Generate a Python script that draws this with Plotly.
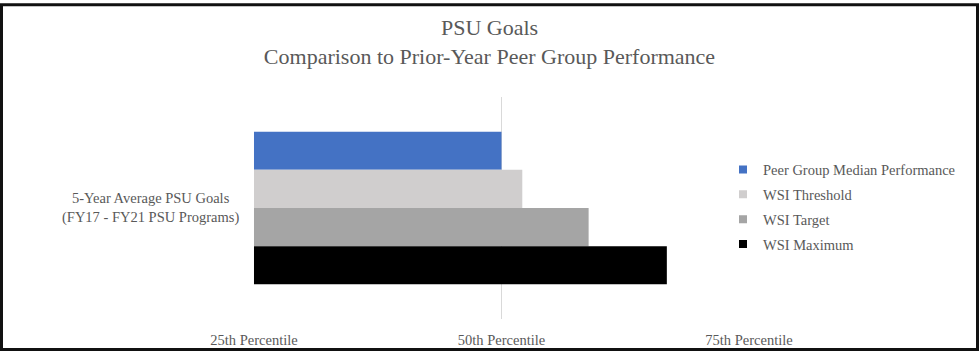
import plotly.graph_objects as go

category = ["5-Year Average PSU Goals<br>(FY17 - FY21 PSU Programs)"]
series_names = ["Peer Group Median Performance", "WSI Threshold", "WSI Target", "WSI Maximum"]
series_values = [50.0, 52.1, 58.8, 66.7]
series_colors = ["#4472C4", "#D0CECE", "#A5A5A5", "#000000"]
tick_vals = [25, 50, 75]
tick_text = ["25th Percentile", "50th Percentile", "75th Percentile"]

W, H = 979, 360
ML, MR, MT, MB = 253, 229, 97, 33
PW, PH = W - ML - MR, H - MT - MB

FONT = "Liberation Serif, Times New Roman, serif"
TXT = "#595959"

fig = go.Figure()
for name, val, col in zip(series_names, series_values, series_colors):
    fig.add_trace(go.Bar(
        x=[val - 25], base=25, y=category, orientation="h", name=name,
        marker=dict(color=col, line=dict(width=0)), showlegend=False,
        hoverinfo="skip",
    ))
for i, (name, col) in enumerate(zip(series_names, series_colors)):
    fig.add_trace(go.Scatter(
        x=[None], y=[None], mode="markers", name=name,
        marker=dict(symbol="square", size=8, color=col),
        legendgroup=f"g{i}",
    ))

def px_x(p):
    return (p - ML) / PW

def px_y(p):
    return 1 - (p - MT) / PH

fig.add_annotation(
    xref="paper", yref="y", x=px_x(241), y=category[0],
    text=category[0], showarrow=False, xanchor="right", align="center",
    font=dict(family=FONT, size=14.5, color=TXT),
)

fig.add_shape(
    type="rect", xref="paper", yref="paper",
    x0=px_x(1.5), x1=px_x(977.5), y0=px_y(358.5), y1=px_y(1.5),
    line=dict(color="#111111", width=3), fillcolor="rgba(0,0,0,0)", layer="above",
)

fig.update_layout(
    width=W, height=H,
    margin=dict(l=ML, r=MR, t=MT, b=MB, pad=0),
    paper_bgcolor="white", plot_bgcolor="white",
    barmode="group", bargap=0.313, bargroupgap=0,
    title=dict(
        text="PSU Goals<br>Comparison to Prior-Year Peer Group Performance",
        x=0.5, xref="container", xanchor="center",
        y=1 - 35 / H, yref="container", yanchor="middle",
        font=dict(family=FONT, size=22, color=TXT),
    ),
    xaxis=dict(
        range=[24.9, 75.1], tickvals=tick_vals, ticktext=tick_text,
        showgrid=True, gridcolor="#D9D9D9", gridwidth=1, zeroline=False,
        showline=False, ticks="", ticklabelstandoff=10,
        tickfont=dict(family=FONT, size=14.5, color=TXT),
    ),
    yaxis=dict(
        type="category", range=[0.5, -0.5], showticklabels=False,
        showgrid=False, zeroline=False, showline=False, ticks="",
    ),
    legend=dict(
        x=px_x(723), xanchor="left", y=px_y(211), yanchor="middle",
        font=dict(family=FONT, size=14.5, color=TXT),
        traceorder="grouped", tracegroupgap=3,
        bgcolor="rgba(0,0,0,0)",
    ),
    showlegend=True,
)

fig.write_html(
    "out.html",
    config={"displayModeBar": False},
    post_script="document.body.style.margin='0';document.body.style.overflow='hidden';",
)
